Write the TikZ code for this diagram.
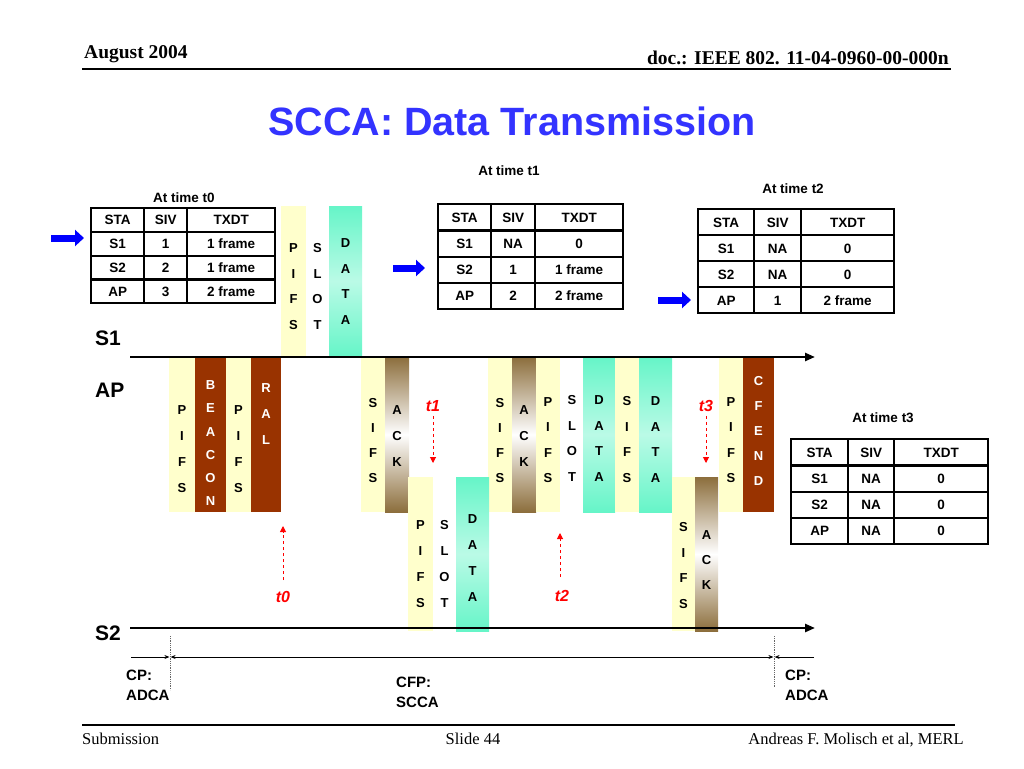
\documentclass[tikz,border=0pt]{standalone}
\usepackage{fontspec}
\setmainfont{Liberation Sans}
\newfontfamily\serifhd{Liberation Serif}
\usetikzlibrary{positioning,arrows.meta,matrix,fit}
\definecolor{pifsy}{RGB}{255,255,204}
\definecolor{rust}{RGB}{153,51,0}
\definecolor{ackbr}{RGB}{140,110,60}
\definecolor{datag}{RGB}{102,245,200}
\definecolor{ttlblue}{RGB}{51,51,255}
\newcommand{\fs}[1]{\fontsize{#1}{#1}\selectfont}
% letters of one burst, stacked downwards
\newcommand{\stack}[6]{%
  \foreach \c [count=\i] in {#6}
    \node[ltr, text=#5] (#1-\i) at (#2, {#3+(\i-1)*#4}) {\c};}
\tikzset{
  x=1pt, y=-1pt,
  pifsbox/.style = {fill=pifsy, inner sep=0pt},
  rustbox/.style = {fill=rust, inner sep=0pt},
  ackbox/.style  = {top color=ackbr, bottom color=ackbr, middle color=white, inner sep=0pt},
  databox/.style = {top color=datag, bottom color=datag, middle color=white!55!datag, inner sep=0pt},
  ltr/.style     = {font=\bfseries\fs{13}, inner sep=0pt},
  lane/.style    = {line width=2.4pt, -{Triangle[length=10pt,width=8pt]}},
  cpspan/.style  = {line width=0.7pt},
  ctip/.style    = {-{Stealth[length=5pt,width=4pt]}},
  vdot/.style    = {densely dotted, black!60, line width=0.8pt},
  tmark/.style   = {red, dashed, line width=1pt, -{Triangle[length=6pt,width=6pt]}},
  tlbl/.style    = {red, font=\bfseries\itshape\fs{16}, inner sep=1pt},
  barrow/.style  = {blue, line width=7pt, -{Triangle[length=9pt,width=16pt]}},
  lbl/.style     = {font=\bfseries\fs{13.5}, inner sep=0pt},
  lanelbl/.style = {font=\bfseries\fs{21}, anchor=west, inner sep=0pt},
  cptxt/.style   = {font=\bfseries\fontsize{15}{20}\selectfont, align=left, anchor=west, inner sep=0pt},
  hdr/.style     = {font=\serifhd\bfseries\fs{19.5}, inner sep=0pt},
  ftr/.style     = {font=\serifhd\fs{16.5}, inner sep=0pt},
  sivtab/.style n args={4}{matrix of nodes, draw, line width=2.4pt, inner sep=0pt,
    anchor=north west,
    nodes={draw, line width=1.1pt, inner sep=0pt, font=\bfseries\fs{13.5},
           text height=9.7pt, text depth=0pt, minimum height=#1-1.1pt},
    column 1/.style={nodes={minimum width=#2-1.1pt}},
    column 2/.style={nodes={minimum width=#3-1.1pt}},
    column 3/.style={nodes={minimum width=#4-1.1pt}}},
}
\begin{document}
\begin{tikzpicture}
  \useasboundingbox (0,0) rectangle (1024,768);
  % header and footer
  \node[hdr, anchor=base west] (date) at (84,59) {August 2004};
  \node[hdr, anchor=base east] (doc) at (949,64) {doc.: IEEE 802. 11-04-0960-00-000n};
  \coordinate (hl) at (82,69); \coordinate (hr) at (951,69);
  \draw[line width=1.3pt] (hl) -- (hr);
  \node[font=\bfseries\fs{39.5}, text=ttlblue] (ttl) at (512,121) {SCCA: Data Transmission};
  \coordinate (fl) at (82,725); \coordinate (fr) at (955,725);
  \draw[line width=1.2pt] (fl) -- (fr);
  \node[ftr, anchor=base west] (sub) at (82,744) {Submission};
  \node[ftr, anchor=base] (slide) at (473,744) {Slide 44};
  \node[ftr, anchor=base east] (auth) at (964,744) {Andreas F. Molisch et al, MERL};

  % tables
  \matrix[sivtab={23.75pt}{53pt}{43pt}{88pt}] (tab0) at (90,207) {
    STA & SIV & TXDT \\
    S1 & 1 & 1 frame \\
    S2 & 2 & 1 frame \\
    AP & 3 & 2 frame \\
  };
  \node[lbl] (cap0) at (184,198) {At time t0};
  \matrix[sivtab={26.25pt}{53pt}{44pt}{88pt}] (tab1) at (437,203) {
    STA & SIV & TXDT \\
    S1 & NA & 0 \\
    S2 & 1 & 1 frame \\
    AP & 2 & 2 frame \\
  };
  \node[lbl] (cap1) at (509,171) {At time t1};
  \matrix[sivtab={26pt}{56pt}{47pt}{93pt}] (tab2) at (697,208) {
    STA & SIV & TXDT \\
    S1 & NA & 0 \\
    S2 & NA & 0 \\
    AP & 1 & 2 frame \\
  };
  \node[lbl] (cap2) at (793,189) {At time t2};
  \matrix[sivtab={26.25pt}{57pt}{46pt}{94pt}] (tab3) at (790,438) {
    STA & SIV & TXDT \\
    S1 & NA & 0 \\
    S2 & NA & 0 \\
    AP & NA & 0 \\
  };
  \node[lbl] (cap3) at (883,418) {At time t3};
  % pointers
  \coordinate (p0a) at (51,238); \coordinate (p0b) at (84,238);
  \coordinate (p1a) at (393,268); \coordinate (p1b) at (425,268);
  \coordinate (p2a) at (658,300); \coordinate (p2b) at (691,300);
  \draw[barrow] (p0a) -- (p0b);
  \draw[barrow] (p1a) -- (p1b);
  \draw[barrow] (p2a) -- (p2b);

  % S1 bursts
  \node[pifsbox, fit={(281,206) (306,356)}] (s1pifs) {};
  \node[databox, fit={(329,206) (362,356)}] (s1data) {};
  \stack{s1p}{293.5}{248}{25.7}{black}{P,I,F,S}
  \stack{s1s}{317.5}{248}{25.7}{black}{S,L,O,T}
  \stack{s1d}{345.5}{243}{25.6}{black}{D,A,T,A}

  % AP bursts
  \node[pifsbox, fit={(169,357) (195,512)}] (ap1) {};
  \node[rustbox, fit={(195,357) (226,512)}] (ap2) {};
  \node[pifsbox, fit={(226,357) (251,512)}] (ap3) {};
  \node[rustbox, fit={(251,357) (281,512)}] (ap4) {};
  \node[pifsbox, fit={(361,357) (385,512)}] (ap5) {};
  \node[ackbox,  fit={(385,357) (409,512)}] (ap6) {};
  \node[pifsbox, fit={(488,357) (512,512)}] (ap7) {};
  \node[ackbox,  fit={(512,357) (536,512)}] (ap8) {};
  \node[pifsbox, fit={(536,357) (560,512)}] (ap9) {};
  \node[databox, fit={(583,357) (615,512)}] (ap11) {};
  \node[pifsbox, fit={(615,357) (639,512)}] (ap12) {};
  \node[databox, fit={(639,357) (672,512)}] (ap13) {};
  \node[pifsbox, fit={(719,357) (743,512)}] (ap14) {};
  \node[rustbox, fit={(743,357) (774,512)}] (ap15) {};
  \stack{ap1}{182}{410}{26}{black}{P,I,F,S}
  \stack{ap2}{210.5}{385}{23.3}{white}{B,E,A,C,O,N}
  \stack{ap3}{238.5}{410}{26}{black}{P,I,F,S}
  \stack{ap4}{266}{388}{26}{white}{R,A,L}
  \stack{ap5}{373}{403}{25}{black}{S,I,F,S}
  \stack{ap6}{397}{410}{26}{black}{A,C,K}
  \stack{ap7}{500}{403}{25}{black}{S,I,F,S}
  \stack{ap8}{524}{410}{26}{black}{A,C,K}
  \stack{ap9}{548}{402}{25.5}{black}{P,I,F,S}
  \stack{ap10}{572}{400}{25.7}{black}{S,L,O,T}
  \stack{ap11}{599}{400}{25.7}{black}{D,A,T,A}
  \stack{ap12}{627}{401}{25.7}{black}{S,I,F,S}
  \stack{ap13}{655.5}{401}{25.7}{black}{D,A,T,A}
  \stack{ap14}{731}{402}{25.5}{black}{P,I,F,S}
  \stack{ap15}{758.5}{381}{25}{white}{C,F,E,N,D}

  % S2 bursts
  \node[pifsbox, fit={(408,477) (433,631)}] (s2pifs) {};
  \node[databox, fit={(456,477) (489,631)}] (s2data) {};
  \node[pifsbox, fit={(672,477) (695,631)}] (s2sifs) {};
  \node[ackbox,  fit={(695,477) (718,631)}] (s2ack) {};
  \stack{s2p}{420.5}{525}{26}{black}{P,I,F,S}
  \stack{s2s}{444.5}{525}{26}{black}{S,L,O,T}
  \stack{s2d}{472.5}{519}{26}{black}{D,A,T,A}
  \stack{s2i}{683.5}{527}{25.7}{black}{S,I,F,S}
  \stack{s2a}{706.5}{535}{25}{black}{A,C,K}

  % time lines
  \coordinate (s1a) at (130,357); \coordinate (s1b) at (815,357);
  \coordinate (s2a) at (130,628); \coordinate (s2b) at (815,628);
  \draw[lane] (s1a) -- (s1b);
  \draw[lane] (s2a) -- (s2b);
  \node[lanelbl] (lS1) at (95,338) {S1};
  \node[lanelbl] (lAP) at (95,390) {AP};
  \node[lanelbl] (lS2) at (95,633) {S2};

  % time marks
  \node[tlbl] (t1) at (433,406) {t1};
  \node[tlbl] (t3) at (706,406) {t3};
  \node[tlbl] (t0) at (283,597) {t0};
  \node[tlbl] (t2) at (562,596) {t2};
  \coordinate (t1e) at (433,463); \coordinate (t3e) at (706,463);
  \coordinate (t0s) at (283,580); \coordinate (t0e) at (283,526);
  \coordinate (t2s) at (560,577); \coordinate (t2e) at (560,533);
  \draw[tmark, shorten <=3pt] (t1) -- (t1e);
  \draw[tmark, shorten <=3pt] (t3) -- (t3e);
  \draw[tmark] (t0s) -- (t0e);
  \draw[tmark] (t2s) -- (t2e);

  % contention periods
  \coordinate (cpL) at (131,657); \coordinate (cpl1) at (170,657);
  \coordinate (cpr1) at (774,657); \coordinate (cpR) at (814,657);
  \draw[cpspan, ctip, shorten >=0.6pt] (cpL) -- (cpl1);
  \draw[cpspan, {Stealth[length=5pt,width=4pt]}-{Stealth[length=5pt,width=4pt]},
        shorten <=0.6pt, shorten >=0.6pt] (cpl1) -- (cpr1);
  \draw[cpspan, ctip, shorten >=0.6pt] (cpR) -- (cpr1);
  \coordinate (dl1) at (170,636); \coordinate (dl2) at (170,690);
  \coordinate (dr1) at (774,636); \coordinate (dr2) at (774,688);
  \draw[vdot] (dl1) -- (dl2);
  \draw[vdot] (dr1) -- (dr2);
  \node[cptxt] (cpl) at (126,685) {CP:\\ADCA};
  \node[cptxt] (cfp) at (396,692) {CFP:\\SCCA};
  \node[cptxt] (cpr) at (785,685) {CP:\\ADCA};
\end{tikzpicture}
\end{document}
